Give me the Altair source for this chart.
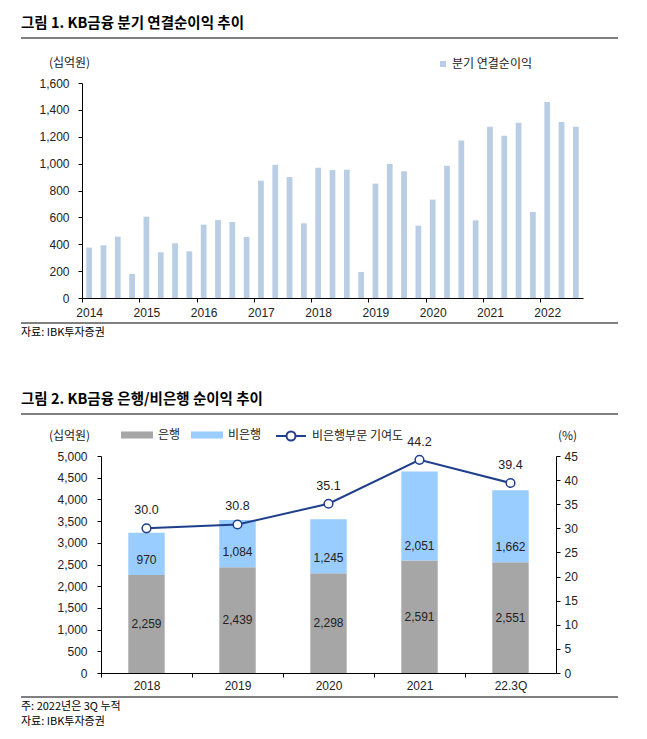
import altair as alt
import pandas as pd

LATIN = "Liberation Sans, Noto Sans CJK KR, sans-serif"
KOR = "Noto Sans CJK KR, Liberation Sans, sans-serif"
INK = "#222222"
NAVY = "#1F3F8C"

# ---------------- texts ----------------
title1 = "그림 1. KB금융 분기 연결순이익 추이"
title2 = "그림 2. KB금융 은행/비은행 순이익 추이"
source = "자료: IBK투자증권"
note2 = "주: 2022년은 3Q 누적"
unit_left = "(십억원)"
unit_right = "(%)"

# ---------------- figure 1 data ----------------
years1 = ["2014", "2015", "2016", "2017", "2018", "2019", "2020", "2021", "2022"]
quarters = [f"{y}Q{q}" for y in years1 for q in (1, 2, 3, 4)][:35]
profit = [
    375, 392, 456, 179,
    605, 340, 407, 347,
    546, 580, 566, 454,
    873, 992, 900, 556,
    970, 952, 955, 194,
    851, 997, 943, 538,
    732, 985, 1173, 578,
    1275, 1208, 1305, 640,
    1459, 1310, 1275,
]
series1 = "분기 연결순이익"

# ---------------- figure 2 data ----------------
cats2 = ["2018", "2019", "2020", "2021", "22.3Q"]
bank = [2259, 2439, 2298, 2591, 2551]
nonbank = [970, 1084, 1245, 2051, 1662]
ratio = [30.0, 30.8, 35.1, 44.2, 39.4]
seg_names = ["은행", "비은행"]
line_name = "비은행부문 기여도"


def text_layer(txt, x, y, size, weight="normal"):
    return alt.Chart(pd.DataFrame({"t": [txt]})).mark_text(
        align="left", baseline="middle", fontSize=size, fontWeight=weight,
        font=KOR, color="#000000"
    ).encode(text="t:N", x=alt.value(x), y=alt.value(y))


def hrule(x1, x2, y):
    return alt.Chart(pd.DataFrame({"a": [0]})).mark_rule(
        color="#000000", strokeWidth=1
    ).encode(x=alt.value(x1), x2=alt.value(x2), y=alt.value(y))


# ================= chart 1 =================
W1, H1 = 501, 215
step1 = W1 / len(quarters)
df1 = pd.DataFrame({"quarter": quarters, "profit": profit, "series": series1})

x1 = alt.X(
    "quarter:N", sort=quarters, title=None,
    scale=alt.Scale(paddingInner=0.6, paddingOuter=0.3),
    axis=alt.Axis(values=[f"{y}Q1" for y in years1],
                  labelExpr="substring(datum.label, 0, 4)", labelAngle=0,
                  tickOffset=-step1 / 2, labelOffset=step1 / 2,
                  labelPadding=5, tickSize=4),
)
y1 = alt.Y(
    "profit:Q", scale=alt.Scale(domain=[0, 1600], nice=False),
    axis=alt.Axis(values=list(range(0, 1601, 200)), format=",d",
                  title=unit_left, titleAngle=0, titleAlign="center",
                  titleBaseline="middle", titleX=-13, titleY=-21,
                  labelPadding=9, tickSize=4),
)
bars1 = alt.Chart(df1).mark_bar().encode(
    x=x1, y=y1,
    color=alt.Color("series:N", scale=alt.Scale(range=["#B9CDE5"]),
                    legend=alt.Legend(title=None, orient="none", legendX=355, legendY=-25,
                                      symbolType="square", symbolSize=36, labelOffset=3,
                                      labelFont=KOR, labelFontSize=12, labelColor=INK,
                                      padding=0, symbolStrokeWidth=0)),
)

chart1 = alt.layer(
    bars1,
    text_layer(title1, -61, -59, 14.5, "bold"),
    hrule(-61, 536, -45),
    hrule(-61, 536, 240),
    text_layer(source, -61, 250, 11),
).properties(width=W1, height=H1)

# ================= chart 2 =================
W2, H2 = 474, 217
OFF = 19
step2 = (W2 - OFF) / len(cats2)

df2 = pd.DataFrame({"cat": cats2, "bank": bank, "nonbank": nonbank,
                    "ratio": ratio, "lname": line_name})
long_rows = []
for i, c in enumerate(cats2):
    long_rows.append({"cat": c, "segment": seg_names[0], "value": bank[i], "ord": 0})
    long_rows.append({"cat": c, "segment": seg_names[1], "value": nonbank[i], "ord": 1})
df2l = pd.DataFrame(long_rows)

x2 = alt.X(
    "cat:N", sort=cats2, title=None,
    scale=alt.Scale(range=[OFF, W2], paddingInner=0.6, paddingOuter=0.3),
    axis=alt.Axis(labelAngle=0, tickOffset=-step2 / 2, labelOffset=step2 / 2,
                  labelPadding=3, tickSize=4),
)
axisL = alt.Axis(values=list(range(0, 5001, 500)), format=",d", title=unit_left,
                 titleAngle=0, titleAlign="center", titleBaseline="middle",
                 titleX=-32, titleY=-21, labelPadding=10, tickSize=4, offset=-OFF)
scaleL = alt.Scale(domain=[0, 5000], nice=False)
axisR = alt.Axis(orient="right", values=list(range(0, 46, 5)), format="d", title=unit_right,
                 titleAngle=0, titleAlign="center", titleBaseline="middle",
                 titleX=11, titleY=-21, labelPadding=4, tickSize=4)
scaleR = alt.Scale(domain=[0, 45], nice=False)

bars2 = alt.Chart(df2l).mark_bar().encode(
    x=x2,
    y=alt.Y("value:Q", stack="zero", scale=scaleL, axis=axisL),
    color=alt.Color("segment:N", sort=seg_names,
                    scale=alt.Scale(domain=seg_names, range=["#A6A6A6", "#99CCFF"]),
                    legend=alt.Legend(title=None, orient="none", direction="horizontal",
                                      legendX=39, legendY=-37,
                                      symbolType="M-1,-0.22H1V0.22H-1Z", symbolSize=1024,
                                      symbolStrokeWidth=0, labelOffset=5, columnPadding=10,
                                      labelFont=KOR, labelFontSize=12, labelColor=INK,
                                      padding=0)),
    order=alt.Order("ord:Q"),
)
bank_lbl = alt.Chart(df2).transform_calculate(mid="datum.bank / 2").mark_text(
    font=LATIN, fontSize=12, color=INK, baseline="middle"
).encode(x=x2, y=alt.Y("mid:Q", scale=scaleL, axis=axisL),
         text=alt.Text("bank:Q", format=","))
nb_lbl = alt.Chart(df2).mark_text(
    font=LATIN, fontSize=12, color=INK, baseline="middle", dy=-15
).encode(x=x2, y=alt.Y("bank:Q", scale=scaleL, axis=axisL),
         text=alt.Text("nonbank:Q", format=","))

line = alt.Chart(df2).mark_line(strokeWidth=2).encode(
    x=x2, y=alt.Y("ratio:Q", scale=scaleR, axis=axisR),
    stroke=alt.Stroke("lname:N", scale=alt.Scale(range=[NAVY]),
                      legend=alt.Legend(title=None, orient="none", legendX=193, legendY=-36,
                                        symbolType="M-1,0H-0.3M0.3,0H1M0.3,0A0.3,0.3 0 1 1 -0.3,0A0.3,0.3 0 1 1 0.3,0",
                                        symbolSize=900, symbolStrokeWidth=2,
                                        symbolFillColor="white", symbolStrokeColor=NAVY,
                                        labelOffset=5, labelFont=KOR, labelFontSize=12,
                                        labelColor=INK, padding=0)),
)
pts = alt.Chart(df2).mark_point(shape="circle", filled=True, fill="white", stroke=NAVY,
                                strokeWidth=1.5, size=75, opacity=1).encode(
    x=x2, y=alt.Y("ratio:Q", scale=scaleR, axis=axisR))
pct_lbl = alt.Chart(df2).mark_text(font=LATIN, fontSize=12.5, color=INK,
                                   baseline="middle", dy=-18).encode(
    x=x2, y=alt.Y("ratio:Q", scale=scaleR, axis=axisR),
    text=alt.Text("ratio:Q", format=".1f"))

left = alt.layer(bars2, bank_lbl, nb_lbl)
right = alt.layer(line, pts, pct_lbl)

chart2 = alt.layer(
    left, right,
    text_layer(title2, -61, -56, 14.5, "bold"),
    hrule(-61, 536, -42),
    hrule(-61, 536, 241),
    text_layer(note2, -61, 251, 11),
    text_layer(source, -61, 266, 11),
).resolve_scale(y="independent").properties(width=W2, height=H2)

chart = alt.vconcat(chart1, chart2, spacing=54).resolve_scale(
    color="independent", stroke="independent"
).resolve_legend(color="independent", stroke="independent").properties(
    padding={"left": 12, "top": 8, "right": 0, "bottom": 0}
).configure_view(stroke=None).configure_axis(
    domainColor="#000000", tickColor="#000000", labelColor=INK, labelFont=LATIN,
    labelFontSize=12, titleFont=KOR, titleFontSize=12, titleFontWeight="normal",
    titleColor=INK, grid=False,
)

chart.save("out.html", embed_options={"renderer": "svg", "actions": False})
